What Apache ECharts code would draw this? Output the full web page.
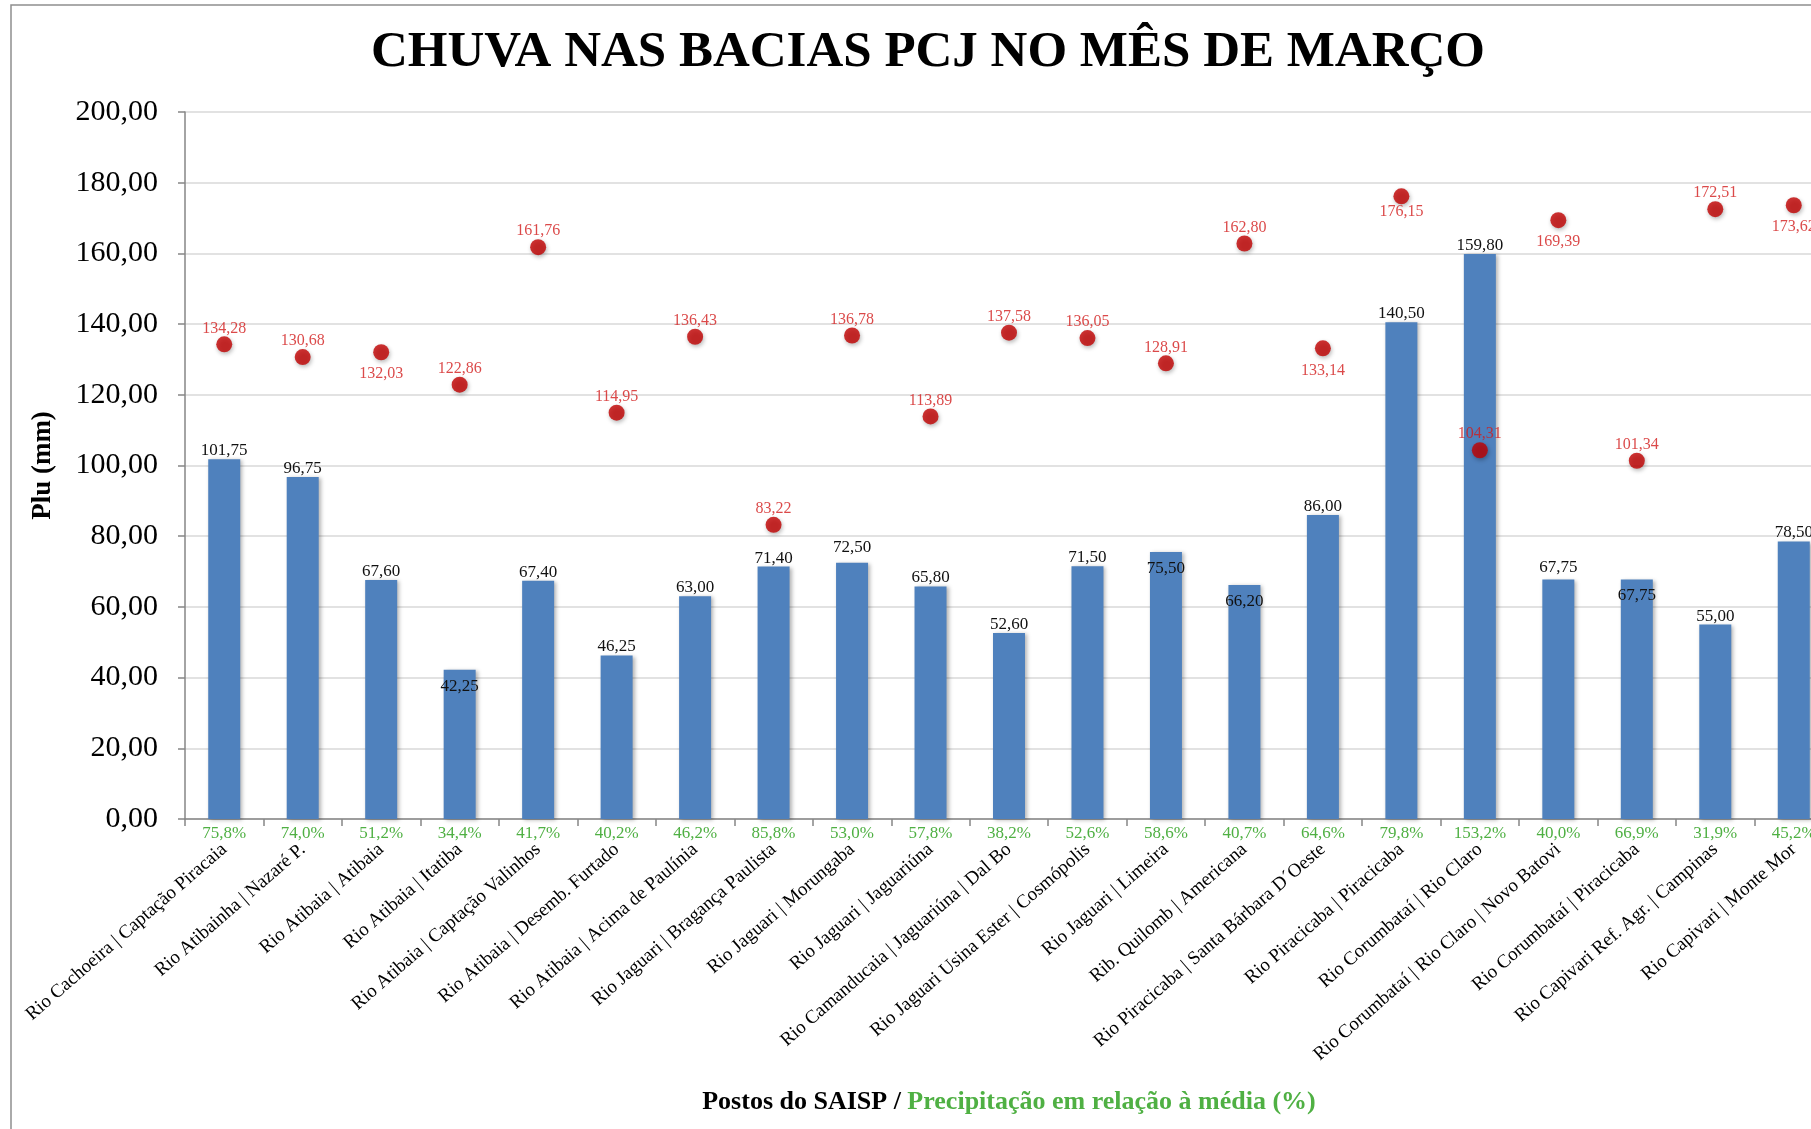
<!DOCTYPE html>
<html>
<head>
<meta charset="utf-8">
<script src="https://cdn.jsdelivr.net/npm/echarts@6/dist/echarts.min.js"></script>
<style>
html,body{margin:0;padding:0;background:#fff;}
#chart{width:1811px;height:1129px;}
</style>
</head>
<body>
<div id="chart"></div>
<script>
const categories = [
  'Rio Cachoeira | Captação Piracaia',
  'Rio Atibainha | Nazaré P.',
  'Rio Atibaia | Atibaia',
  'Rio Atibaia | Itatiba',
  'Rio Atibaia | Captação Valinhos',
  'Rio Atibaia | Desemb. Furtado',
  'Rio Atibaia | Acima de Paulínia',
  'Rio Jaguari | Bragança Paulista',
  'Rio Jaguari | Morungaba',
  'Rio Jaguari | Jaguariúna',
  'Rio Camanducaia | Jaguariúna | Dal Bo',
  'Rio Jaguari Usina Ester | Cosmópolis',
  'Rio Jaguari | Limeira',
  'Rib. Quilomb | Americana',
  'Rio Piracicaba | Santa Bárbara D´Oeste',
  'Rio Piracicaba | Piracicaba',
  'Rio Corumbataí | Rio Claro',
  'Rio Corumbataí | Rio Claro | Novo Batovi',
  'Rio Corumbataí | Piracicaba',
  'Rio Capivari Ref. Agr. | Campinas',
  'Rio Capivari | Monte Mor'
];
// observed rainfall (mm) - bars
const rainObserved = [101.75, 96.75, 67.60, 42.25, 67.40, 46.25, 63.00, 71.40, 72.50, 65.80, 52.60, 71.50, 75.50, 66.20, 86.00, 140.50, 159.80, 67.75, 67.75, 55.00, 78.50];
// historical mean (mm) - red dots
const rainMean = [134.28, 130.68, 132.03, 122.86, 161.76, 114.95, 136.43, 83.22, 136.78, 113.89, 137.58, 136.05, 128.91, 162.80, 133.14, 176.15, 104.31, 169.39, 101.34, 172.51, 173.62];
// percentage of mean (text shown under the axis)
const pctOfMean = ['75,8%', '74,0%', '51,2%', '34,4%', '41,7%', '40,2%', '46,2%', '85,8%', '53,0%', '57,8%', '38,2%', '52,6%', '58,6%', '40,7%', '64,6%', '79,8%', '153,2%', '40,0%', '66,9%', '31,9%', '45,2%'];
const yTicks = [0, 20, 40, 60, 80, 100, 120, 140, 160, 180, 200];

// label placement (style only)
const barLabelInside = [3, 12, 13, 18];
const barLabelLift = {8: 7, 17: 3};
const dotLabelBelow = [2, 14, 15, 17, 20];
const dotLabelBelowTight = [15];

const fmt = v => v.toFixed(2).replace('.', ',');
const SERIF = '"Liberation Serif", "Times New Roman", serif';

const barData = rainObserved.map((v, i) => {
  const inside = barLabelInside.includes(i);
  return {
    value: v,
    label: inside
      ? { position: 'insideTop', distance: 8 }
      : { position: 'top', distance: 0, offset: [0, -(barLabelLift[i] || 0)] }
  };
});
const dotData = rainMean.map((v, i) => {
  const below = dotLabelBelow.includes(i);
  return {
    value: v,
    label: below
      ? { position: 'bottom', distance: dotLabelBelowTight.includes(i) ? -1 : 6 }
      : { position: 'top', distance: 0 }
  };
});

const chart = echarts.init(document.getElementById('chart'));
chart.setOption({
  backgroundColor: '#ffffff',
  animation: false,
  title: {
    text: 'CHUVA NAS BACIAS PCJ NO MÊS DE MARÇO',
    left: 923,
    top: 22,
    textAlign: 'center',
    textStyle: { fontFamily: SERIF, fontSize: 51, fontWeight: 'bold', color: '#000' }
  },
  graphic: [{
    type: 'rect', silent: true, z: -10,
    shape: { x: 11, y: 5, width: 1900, height: 1300 },
    style: { fill: 'none', stroke: '#8e8e8e', lineWidth: 1.5 }
  }],
  grid: { left: 185, top: 112, width: 1648, height: 707, containLabel: false, outerBoundsMode: 'none' },
  xAxis: [{
    type: 'category',
    data: categories,
    position: 'bottom',
    axisLine: { lineStyle: { color: '#868686', width: 1.5 } },
    axisTick: { show: true, length: 7, lineStyle: { color: '#868686', width: 1.5 } },
    axisLabel: {
      interval: 0, rotate: 41, margin: 28,
      fontFamily: SERIF, fontSize: 19, color: '#000'
    },
    name: '{a|Postos do SAISP / }{b|Precipitação em relação à média (%)}',
    nameLocation: 'middle',
    nameGap: 270,
    nameTextStyle: {
      rich: {
        a: { fontFamily: SERIF, fontSize: 26, fontWeight: 'bold', color: '#000' },
        b: { fontFamily: SERIF, fontSize: 26, fontWeight: 'bold', color: '#4fb043' }
      }
    }
  }, {
    type: 'category',
    data: pctOfMean,
    position: 'bottom',
    gridIndex: 0,
    axisLine: { show: false },
    axisTick: { show: false },
    splitLine: { show: false },
    axisLabel: { interval: 0, margin: 6, fontFamily: SERIF, fontSize: 17, color: '#4fb043' }
  }],
  yAxis: {
    type: 'value',
    min: yTicks[0],
    max: yTicks[yTicks.length - 1],
    interval: yTicks[1] - yTicks[0],
    axisLine: { show: true, lineStyle: { color: '#868686', width: 1.5 } },
    axisTick: { show: true, length: 7, lineStyle: { color: '#868686', width: 1.5 } },
    splitLine: { show: true, lineStyle: { color: '#d9d9d9', width: 1.5 } },
    axisLabel: { margin: 27, fontFamily: SERIF, fontSize: 30, color: '#000', formatter: v => fmt(v) },
    name: 'Plu (mm)',
    nameLocation: 'middle',
    nameGap: 128,
    nameRotate: 90,
    nameTextStyle: { fontFamily: SERIF, fontSize: 27, fontWeight: 'bold', color: '#000' }
  },
  series: [{
    type: 'bar',
    data: barData,
    barWidth: 32,
    itemStyle: {
      color: '#4f81bd',
      shadowBlur: 4, shadowOffsetX: 2, shadowOffsetY: 1, shadowColor: 'rgba(0,0,0,0.3)'
    },
    label: {
      show: true, fontFamily: SERIF, fontSize: 17, color: '#111',
      formatter: p => fmt(p.value)
    },
    z: 2
  }, {
    type: 'scatter',
    data: dotData,
    symbol: 'circle',
    symbolSize: 16,
    itemStyle: {
      color: '#c00000',
      shadowBlur: 4, shadowOffsetX: 1, shadowOffsetY: 2, shadowColor: 'rgba(0,0,0,0.35)'
    },
    label: {
      show: true, fontFamily: SERIF, fontSize: 16, color: '#d21c1c',
      formatter: p => fmt(p.value)
    },
    z: 3
  }]
});
</script>
</body>
</html>
